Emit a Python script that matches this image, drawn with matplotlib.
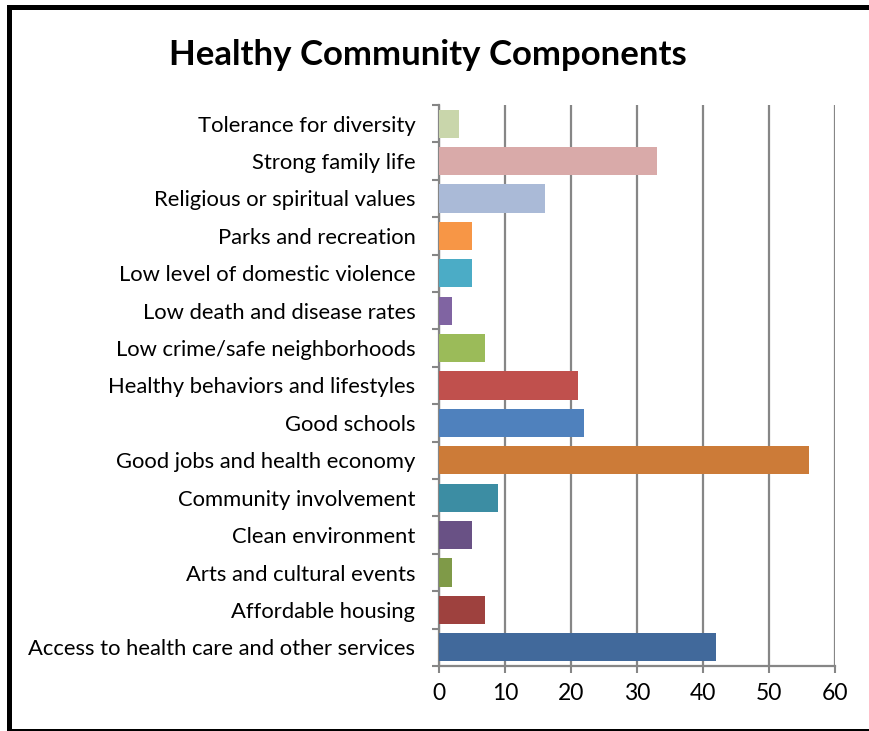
import matplotlib.pyplot as plt
from matplotlib.lines import Line2D
from matplotlib.ticker import FixedLocator

plt.rcParams['font.family'] = ['Lato', 'DejaVu Sans']

# Categories listed bottom to top
components = [
    'Access to health care and other services',
    'Affordable housing',
    'Arts and cultural events',
    'Clean environment',
    'Community involvement',
    'Good jobs and health economy',
    'Good schools',
    'Healthy behaviors and lifestyles',
    'Low crime/safe neighborhoods',
    'Low death and disease rates',
    'Low level of domestic violence',
    'Parks and recreation',
    'Religious or spiritual values',
    'Strong family life',
    'Tolerance for diversity',
]
counts = [42, 7, 2, 5, 9, 56, 22, 21, 7, 2, 5, 5, 16, 33, 3]
bar_colors = [
    '#41699B', '#9E413E', '#7F9A48', '#695185', '#3C8DA3',
    '#CC7B38', '#4F81BD', '#C0504D', '#9BBB59', '#8064A2',
    '#4BACC6', '#F79646', '#AABAD7', '#D9AAA9', '#C9D6AB',
]
x_ticks = [0, 10, 20, 30, 40, 50, 60]

fig = plt.figure(figsize=(8.7, 7.31), dpi=100)
ax = fig.add_axes([0.5046, 0.0889, 0.4552, 0.7675])

pos = list(range(len(components)))
ax.barh(pos, counts, height=0.75, color=bar_colors, zorder=3)

ax.set_xlim(0, 60)
ax.set_ylim(-0.5, len(components) - 0.5)
ax.set_xticks(x_ticks)
ax.set_xticklabels([str(t) for t in x_ticks], fontsize=16.5)
ax.set_yticks(pos)
ax.set_yticklabels(components, fontsize=15.8)
# tick marks sit between categories, labels at the centers
ax.yaxis.set_minor_locator(FixedLocator([p - 0.5 for p in pos] + [len(pos) - 0.5]))
ax.tick_params(axis='y', which='major', length=0, pad=17)
ax.tick_params(axis='y', which='minor', length=5, width=1.5, color='#868686')
ax.tick_params(axis='x', length=5, width=1.5, color='#868686', pad=7)

ax.grid(axis='x', color='#868686', linewidth=1.6, zorder=0)
for side in ['top', 'right']:
    ax.spines[side].set_visible(False)
for side in ['left', 'bottom']:
    ax.spines[side].set_color('#868686')
    ax.spines[side].set_linewidth(1.6)

fig.text(0.492, 0.925, 'Healthy Community Components', ha='center', va='center',
         fontsize=25, fontweight='bold')

# black frame: top, left and bottom edges only
left, top, bottom = 9.5 / 870, 1 - 6.5 / 731, 0.0
frame = dict(color='black', linewidth=3.6, solid_capstyle='projecting',
             transform=fig.transFigure)
fig.add_artist(Line2D([left, 1.05], [top, top], **frame))
fig.add_artist(Line2D([left, left], [bottom, top], **frame))
fig.add_artist(Line2D([left, 1.05], [bottom, bottom], **frame))

fig.savefig('out.png', dpi=100)
